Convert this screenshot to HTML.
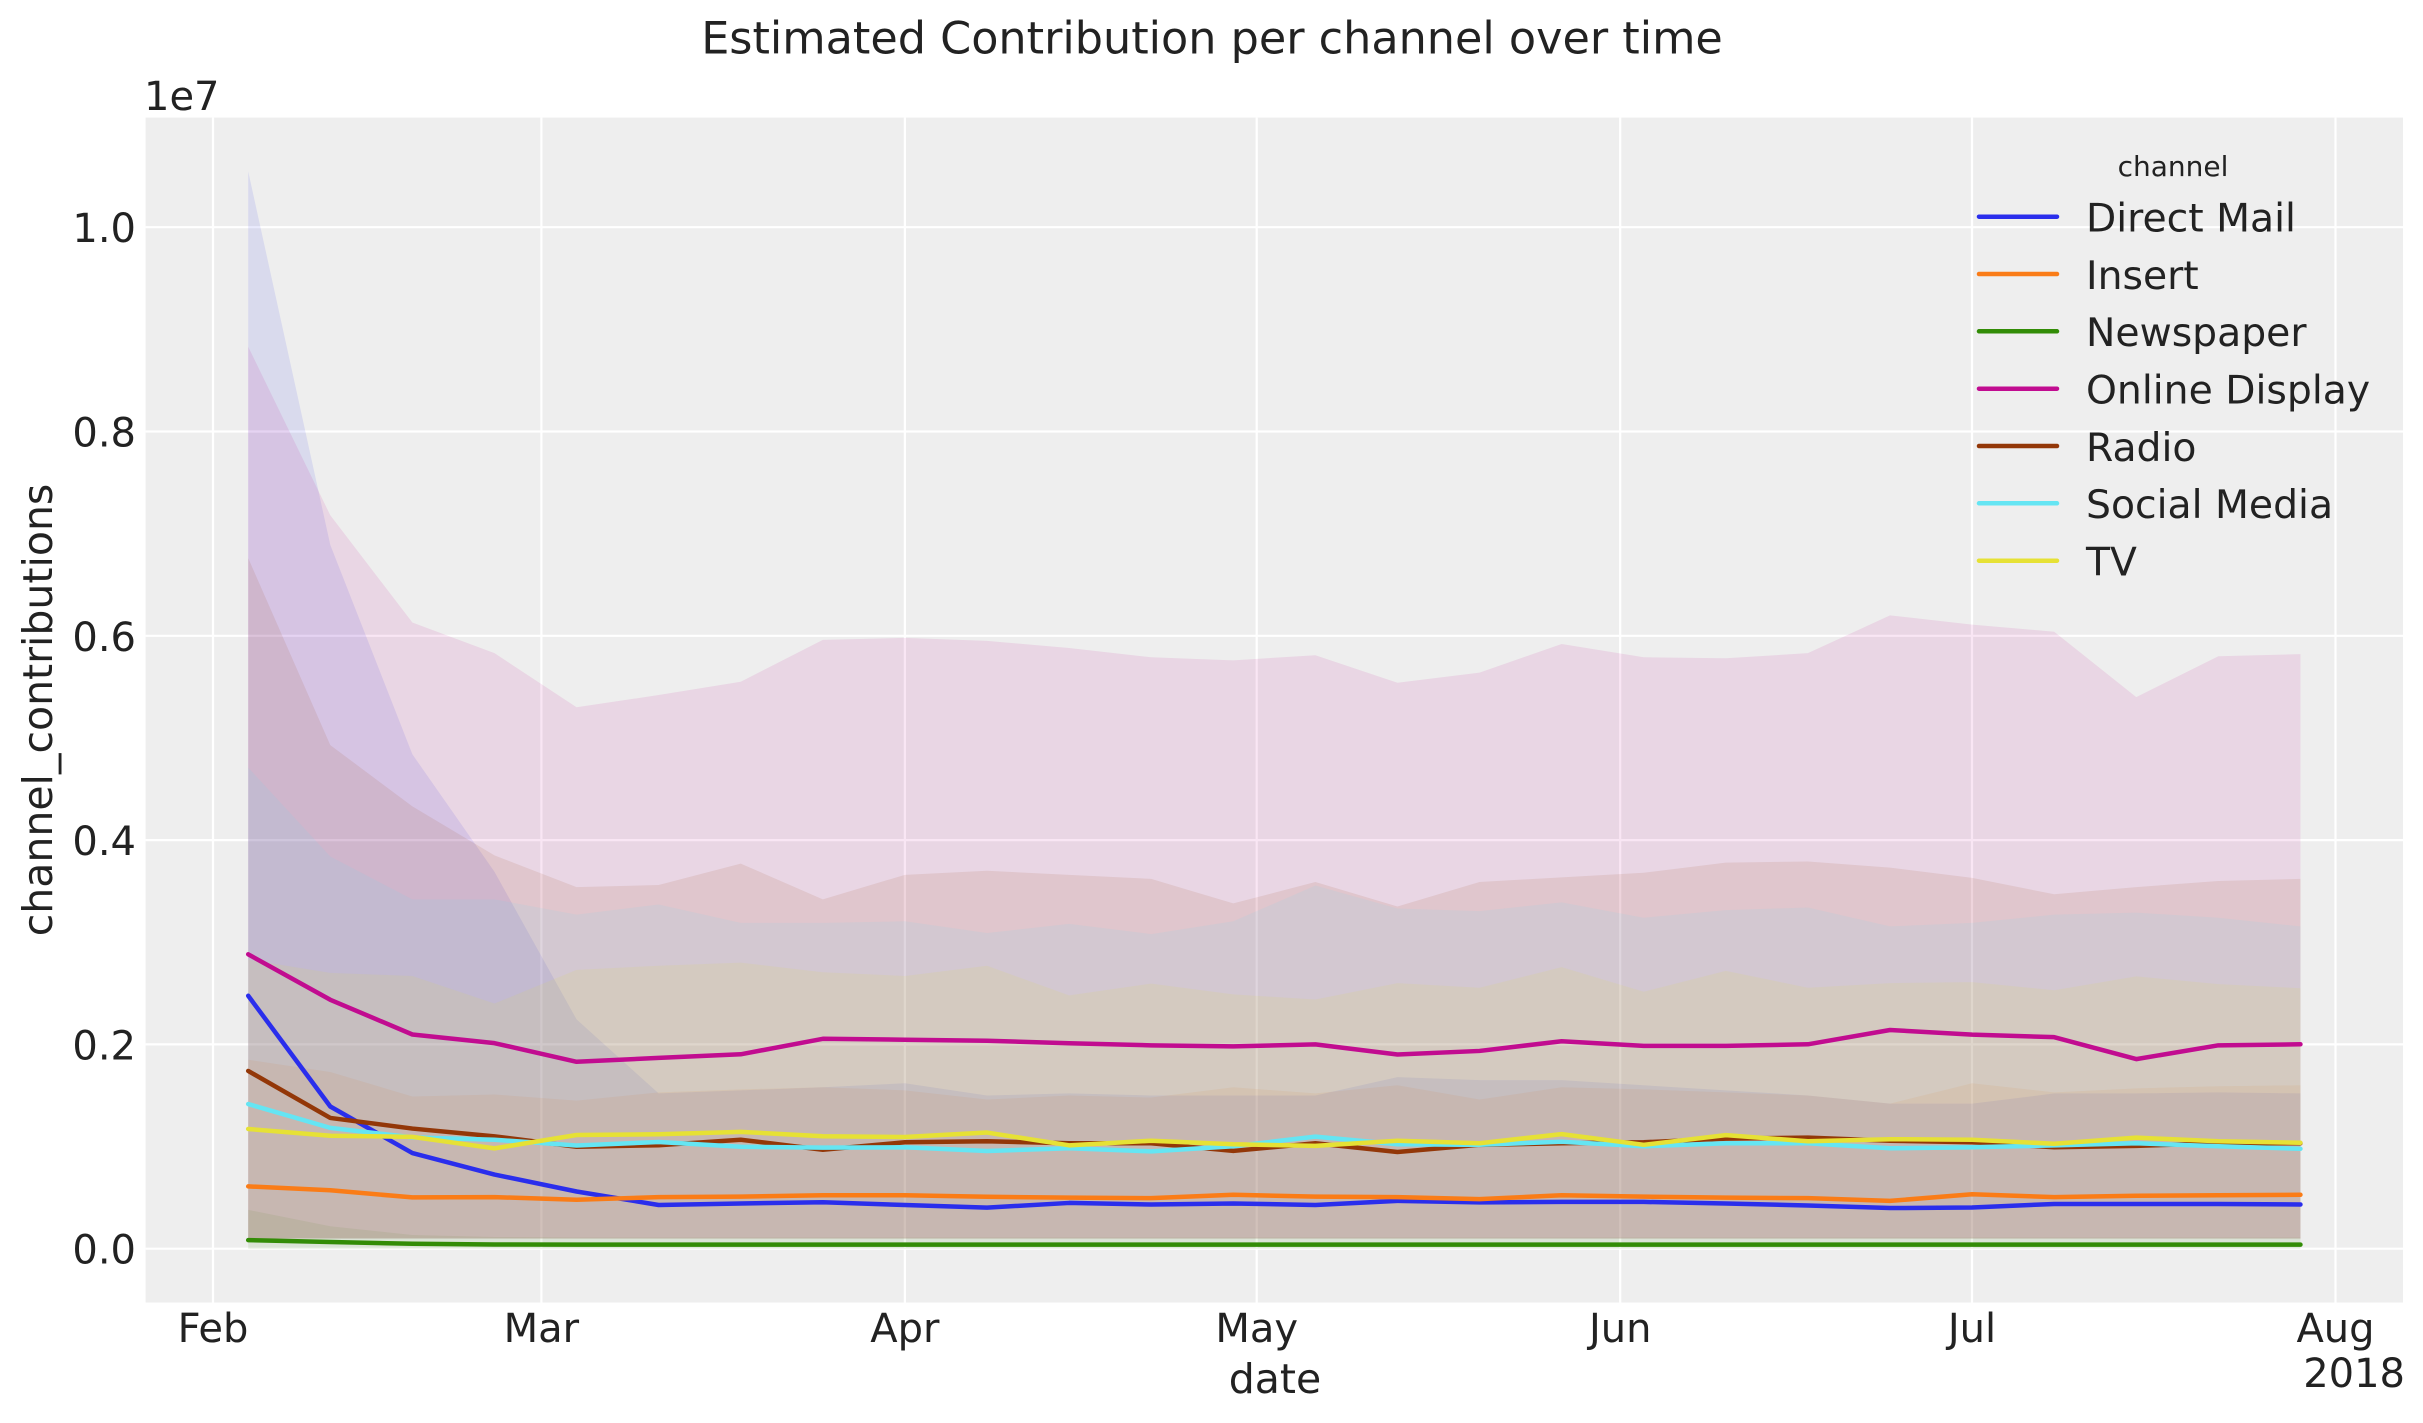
<!DOCTYPE html>
<html>
<head>
<meta charset="utf-8">
<style>
html,body{margin:0;padding:0;background:#ffffff;}
svg{display:block;}
</style>
</head>
<body>
<svg xmlns="http://www.w3.org/2000/svg" width="2423" height="1423" viewBox="0 0 2423 1423" font-family="'DejaVu Sans','Liberation Sans',sans-serif" fill="#222222">
  <rect x="0" y="0" width="2423" height="1423" fill="#ffffff"/>
  <!-- axes background -->
  <rect x="145.6" y="117.6" width="2257.4" height="1184.9" fill="#eeeeee"/>
  <!-- grid -->
  <g stroke="#ffffff" stroke-width="2.2" fill="none">
    <line x1="145.6" y1="1248.7" x2="2403" y2="1248.7"/>
    <line x1="145.6" y1="1044.4" x2="2403" y2="1044.4"/>
    <line x1="145.6" y1="840.1" x2="2403" y2="840.1"/>
    <line x1="145.6" y1="635.8" x2="2403" y2="635.8"/>
    <line x1="145.6" y1="431.5" x2="2403" y2="431.5"/>
    <line x1="145.6" y1="227.2" x2="2403" y2="227.2"/>
    <line x1="213" y1="117.6" x2="213" y2="1302.5"/>
    <line x1="541.4" y1="117.6" x2="541.4" y2="1302.5"/>
    <line x1="904.9" y1="117.6" x2="904.9" y2="1302.5"/>
    <line x1="1256.7" y1="117.6" x2="1256.7" y2="1302.5"/>
    <line x1="1620.2" y1="117.6" x2="1620.2" y2="1302.5"/>
    <line x1="1972" y1="117.6" x2="1972" y2="1302.5"/>
    <line x1="2335.5" y1="117.6" x2="2335.5" y2="1302.5"/>
  </g>

  <!-- data in data coordinates: x = index (weekly), y = value*1000 (units of 1e7/1000) -->
  <g transform="matrix(82.09,0,0,-1.0215,248.2,1248.7)">
    <g stroke="none">
      <polygon fill="#2a2eec" fill-opacity="0.1" points="0,1054.6 1,689 2,484 3,369 4,224.5 5,152 6,155 7,158 8,162 9,150 10,152 11,150 12,150 13,150 14,168 15,165 16,165 17,160 18,155 19,150 20,142 21,142 22,152 23,152 24,153 25,152 25,10 0,10"/>
      <polygon fill="#fa7c17" fill-opacity="0.1" points="0,185 1,173 2,149 3,151 4,145 5,153 6,156 7,158 8,155 9,146 10,150 11,148 12,158 13,152 14,160 15,146 16,158 17,156 18,153 19,150 20,142 21,162 22,153 23,157 24,159 25,160 25,10 0,10"/>
      <polygon fill="#328c06" fill-opacity="0.1" points="0,38 1,22 2,13.4 3,11.5 4,11 5,11 6,11 7,11 8,11 9,11 10,11 11,11 12,11 13,11 14,11 15,11 16,11 17,11 18,11 19,11 20,11 21,11 22,11 23,11 24,11 25,11 25,0 0,0"/>
      <polygon fill="#c10c90" fill-opacity="0.1" points="0,883 1,718 2,613 3,583 4,530 5,542 6,555 7,596 8,598 9,595 10,588 11,579 12,576 13,581 14,554 15,564 16,592 17,579 18,578 19,583 20,620 21,611 22,604 23,540 24,580 25,582 25,10 0,10"/>
      <polygon fill="#933708" fill-opacity="0.1" points="0,676 1,493 2,433 3,385 4,354 5,356 6,377 7,342 8,366 9,370 10,366 11,362 12,338 13,359 14,335 15,359 16,363.5 17,368 18,378 19,379 20,373 21,363 22,347 23,354 24,360 25,362 25,10 0,10"/>
      <polygon fill="#65e5f3" fill-opacity="0.1" points="0,471 1,384 2,342 3,342 4,327 5,337 6,319 7,319 8,320.5 9,309 10,318 11,308 12,320.5 13,355.5 14,333 15,330.5 16,339 17,324 18,331.5 19,334 20,315.5 21,319 22,327 23,329 24,324 25,315.5 25,10 0,10"/>
      <polygon fill="#e6e135" fill-opacity="0.1" points="0,283 1,270 2,267 3,240 4,273 5,277 6,280 7,270.6 8,267 9,277 10,248 11,259.5 12,249 13,244 14,260 15,255.5 16,275.6 17,251.6 18,272 19,255.5 20,260 21,261 22,253 23,266.6 24,259 25,255 25,10 0,10"/>
    </g>
    <g fill="none" stroke-width="4.5" stroke-linejoin="round" stroke-linecap="round">
      <polyline vector-effect="non-scaling-stroke" stroke="#2a2eec" points="0,247.6 1,139.2 2,93.6 3,72.6 4,56 5,42.8 6,44.3 7,45.5 8,42.8 9,40.2 10,44.8 11,43.3 12,44.3 13,42.8 14,46.8 15,45.3 16,45.8 17,45.8 18,44.3 19,42.3 20,39.8 21,40.3 22,43.8 23,43.8 24,43.8 25,43.3"/>
      <polyline vector-effect="non-scaling-stroke" stroke="#fa7c17" points="0,61 1,57.2 2,50.2 3,50.5 4,47.9 5,50.5 6,51 7,52.3 8,52.3 9,50.8 10,50 11,49.5 12,52.8 13,51 14,50.5 15,48.5 16,52.3 17,51 18,50 19,49.5 20,46.8 21,53.3 22,50.5 23,51.8 24,52.3 25,52.8"/>
      <polyline vector-effect="non-scaling-stroke" stroke="#328c06" points="0,8.4 1,6.5 2,4.9 3,4.1 4,4 5,4 6,4 7,4 8,4 9,4 10,4 11,4 12,4 13,4 14,4 15,4 16,4 17,4 18,4 19,4 20,4 21,4 22,4 23,4 24,4 25,4"/>
      <polyline vector-effect="non-scaling-stroke" stroke="#c10c90" points="0,288.2 1,243.7 2,209.7 3,201.2 4,183 5,186.8 6,190.3 7,205.5 8,204.6 9,203.6 10,201.1 11,199.1 12,198.1 13,200 14,190.1 15,193.6 16,203.1 17,198.6 18,198.6 19,200.1 20,214.1 21,209.6 22,207.1 23,185.6 24,199.1 25,200.1"/>
      <polyline vector-effect="non-scaling-stroke" stroke="#933708" points="0,174 1,128 2,117.6 3,110 4,99.8 5,101.3 6,106.7 7,96.9 8,104.2 9,105.2 10,103.2 11,103.2 12,95.7 13,103.2 14,94.7 15,101.7 16,103.2 17,104.2 18,107.7 19,108.7 20,105.7 21,104.2 22,99.3 23,100.7 24,103.2 25,103.2"/>
      <polyline vector-effect="non-scaling-stroke" stroke="#65e5f3" points="0,141.6 1,118.3 2,109 3,106.7 4,101 5,104.4 6,99.8 7,99 8,99.3 9,95.7 10,98.3 11,95.3 12,100.3 13,109.7 14,102.2 15,101.7 16,104.7 17,100.3 18,103.2 19,103.2 20,98.3 21,99.3 22,101.2 23,103.2 24,100.3 25,97.8"/>
      <polyline vector-effect="non-scaling-stroke" stroke="#e6e135" points="0,117.2 1,110.6 2,109.5 3,98.2 4,111.3 5,112 6,114.4 7,110.1 8,109.3 9,113.7 10,101.2 11,105.7 12,102.2 13,100.7 14,105.7 15,103.2 16,112.2 17,101.7 18,111.2 19,105.2 20,107.2 21,106.7 22,102.7 23,108.7 24,105.2 25,103.7"/>
    </g>
  </g>

  <!-- title -->
  <text x="1212" y="53.5" font-size="44.5" text-anchor="middle">Estimated Contribution per channel over time</text>

  <!-- offset text -->
  <text x="144" y="110" font-size="40">1e7</text>

  <!-- y tick labels -->
  <g font-size="40" text-anchor="end">
    <text x="136" y="1263.7">0.0</text>
    <text x="136" y="1059.4">0.2</text>
    <text x="136" y="855.1">0.4</text>
    <text x="136" y="650.8">0.6</text>
    <text x="136" y="446.5">0.8</text>
    <text x="136" y="242.2">1.0</text>
  </g>

  <!-- x tick labels -->
  <g font-size="40" text-anchor="middle">
    <text x="213" y="1342">Feb</text>
    <text x="541.4" y="1342">Mar</text>
    <text x="904.9" y="1342">Apr</text>
    <text x="1256.7" y="1342">May</text>
    <text x="1620.2" y="1342">Jun</text>
    <text x="1972" y="1342">Jul</text>
    <text x="2335.5" y="1342">Aug</text>
  </g>
  <text x="2405" y="1387" font-size="40" text-anchor="end">2018</text>

  <!-- axis labels -->
  <text x="1275" y="1393" font-size="41" text-anchor="middle">date</text>
  <text transform="translate(52,710) rotate(-90)" x="0" y="0" font-size="41" text-anchor="middle">channel_contributions</text>

  <!-- legend -->
  <text x="2173" y="176" font-size="28" text-anchor="middle">channel</text>
  <g stroke-width="4.5" stroke-linecap="round">
    <line x1="1979" y1="216.7" x2="2057" y2="216.7" stroke="#2a2eec"/>
    <line x1="1979" y1="274" x2="2057" y2="274" stroke="#fa7c17"/>
    <line x1="1979" y1="331.3" x2="2057" y2="331.3" stroke="#328c06"/>
    <line x1="1979" y1="388.7" x2="2057" y2="388.7" stroke="#c10c90"/>
    <line x1="1979" y1="446" x2="2057" y2="446" stroke="#933708"/>
    <line x1="1979" y1="503.3" x2="2057" y2="503.3" stroke="#65e5f3"/>
    <line x1="1979" y1="560.7" x2="2057" y2="560.7" stroke="#e6e135"/>
  </g>
  <g font-size="39.3">
    <text x="2086" y="231.5">Direct Mail</text>
    <text x="2086" y="288.8">Insert</text>
    <text x="2086" y="346.1">Newspaper</text>
    <text x="2086" y="403.5">Online Display</text>
    <text x="2086" y="460.8">Radio</text>
    <text x="2086" y="518.1">Social Media</text>
    <text x="2086" y="575.5">TV</text>
  </g>
</svg>
</body>
</html>
